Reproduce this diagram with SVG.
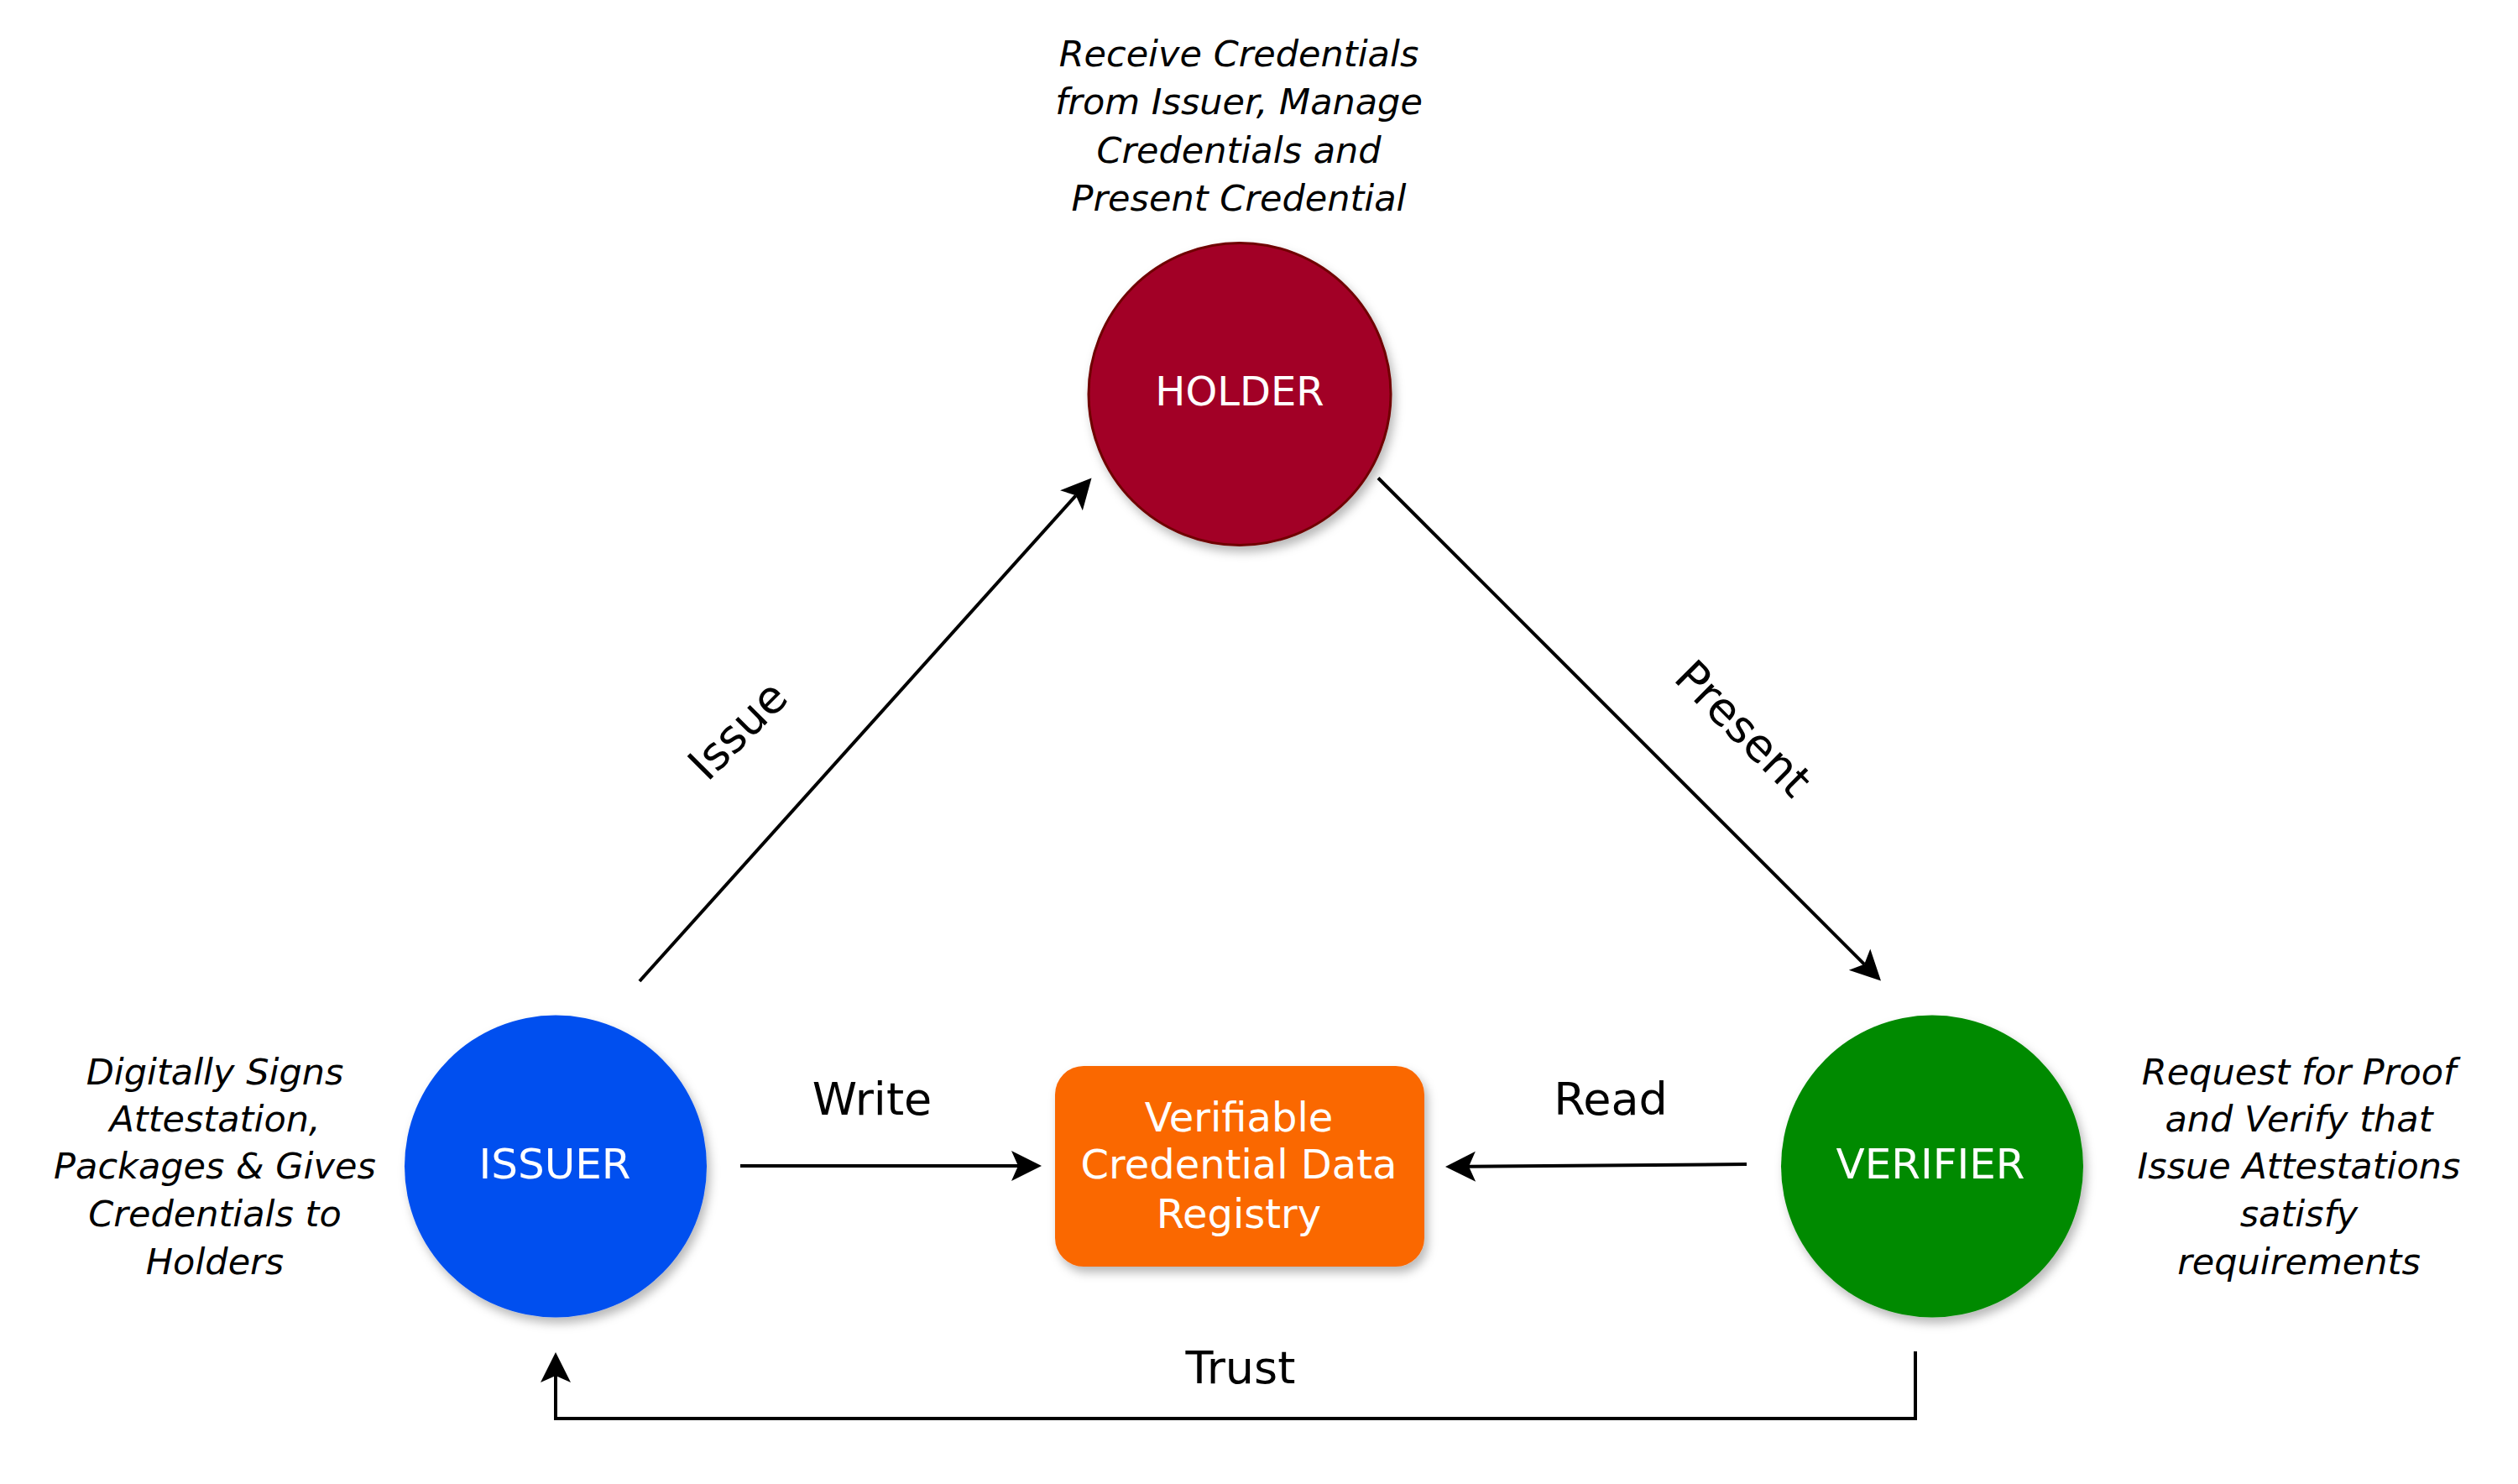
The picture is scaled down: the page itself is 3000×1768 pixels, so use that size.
<svg xmlns="http://www.w3.org/2000/svg" width="3000" height="1768" viewBox="0 0 3000 1768">
<defs>
<style>
.node-label{font-family:"DejaVu Sans","Verdana",sans-serif;font-size:48px;fill:#ffffff;text-anchor:middle}
.big{font-size:50px}
.note{font-family:"DejaVu Sans","Verdana",sans-serif;font-size:43px;font-style:italic;fill:#000000;text-anchor:middle}
.edge-label{font-family:"DejaVu Sans","Verdana",sans-serif;font-size:54px;fill:#000000;text-anchor:middle}
.conn{fill:none;stroke:#000000;stroke-width:4}
</style>
<filter id="shadow" x="-20%" y="-20%" width="150%" height="150%">
<feDropShadow dx="4" dy="7" stdDeviation="6" flood-color="#000000" flood-opacity="0.28"/>
</filter>
<marker id="arrow" markerUnits="userSpaceOnUse" viewBox="-10 -20 40 40" markerWidth="40" markerHeight="40" refX="0" refY="0" orient="auto" overflow="visible">
<path d="M28,0 L-8,-18 L0,0 L-8,18 Z" fill="#000000"/>
</marker>
</defs>
<rect x="0" y="0" width="3000" height="1768" fill="#ffffff"/>

<g id="connectors">
<line id="edge-issue" class="conn" x1="762" y1="1169" x2="1281.8" y2="590.3" marker-end="url(#arrow)"/>
<line id="edge-present" class="conn" x1="1642" y1="569.5" x2="2221.2" y2="1148.8" marker-end="url(#arrow)"/>
<line id="edge-write" class="conn" x1="882" y1="1389" x2="1213" y2="1389" marker-end="url(#arrow)"/>
<line id="edge-read" class="conn" x1="2081" y1="1387" x2="1750" y2="1389.8" marker-end="url(#arrow)"/>
<path id="edge-trust" class="conn" d="M2282,1610 V1690 H662 V1639" marker-end="url(#arrow)"/>
<text class="edge-label" transform="translate(879,870) rotate(-45)" dominant-baseline="central">Issue</text>
<text class="edge-label" transform="translate(2077,868) rotate(45)" dominant-baseline="central">Present</text>
<text class="edge-label" x="1039" y="1328">Write</text>
<text class="edge-label" x="1919" y="1328">Read</text>
<text class="edge-label" x="1478" y="1648">Trust</text>
</g>

<g id="holder">
<circle cx="1477" cy="469.5" r="180" fill="#A20025" stroke="#6F0000" stroke-width="3" filter="url(#shadow)"/>
<text class="node-label" x="1477" y="483">HOLDER</text>
</g>

<g id="issuer">
<circle cx="662" cy="1389.5" r="180" fill="#0050EF" filter="url(#shadow)"/>
<text class="node-label big" x="661" y="1404">ISSUER</text>
</g>

<g id="verifier">
<circle cx="2302" cy="1389.5" r="180" fill="#008A00" filter="url(#shadow)"/>
<text class="node-label big" x="2300" y="1404">VERIFIER</text>
</g>

<g id="registry">
<rect x="1257" y="1270" width="440" height="239" rx="34" ry="34" fill="#FA6800" filter="url(#shadow)"/>
<text class="node-label" x="1476" y="1348">Verifiable</text>
<text class="node-label" x="1476" y="1404">Credential Data</text>
<text class="node-label" x="1476" y="1463">Registry</text>
</g>

<g id="holder-note">
<text class="note" x="1476" y="79">Receive Credentials</text>
<text class="note" x="1476" y="136">from Issuer, Manage</text>
<text class="note" x="1476" y="194">Credentials and</text>
<text class="note" x="1476" y="251">Present Credential</text>
</g>

<g id="issuer-note">
<text class="note" x="256" y="1292">Digitally Signs</text>
<text class="note" x="256" y="1348">Attestation,</text>
<text class="note" x="256" y="1404">Packages &amp; Gives</text>
<text class="note" x="256" y="1461">Credentials to</text>
<text class="note" x="256" y="1518">Holders</text>
</g>

<g id="verifier-note">
<text class="note" x="2739" y="1292">Request for Proof</text>
<text class="note" x="2739" y="1348">and Verify that</text>
<text class="note" x="2739" y="1404">Issue Attestations</text>
<text class="note" x="2739" y="1461">satisfy</text>
<text class="note" x="2739" y="1518">requirements</text>
</g>
</svg>
